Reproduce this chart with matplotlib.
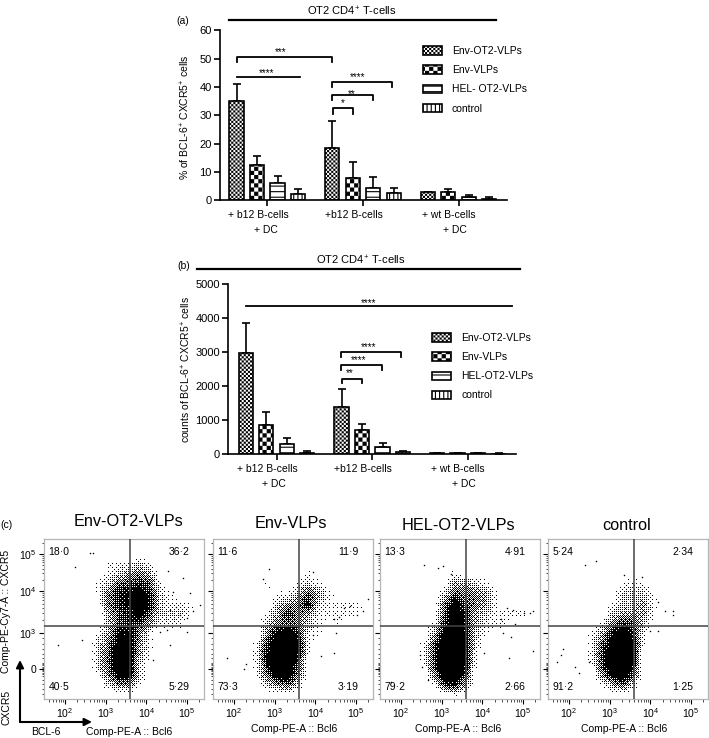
import numpy as np
import matplotlib
matplotlib.use('Agg')
import matplotlib.pyplot as plt
import matplotlib.hatch as mhatch
from matplotlib.lines import Line2D
from matplotlib.patches import Patch, FancyArrowPatch
from matplotlib.path import Path

plt.rcParams['font.family'] = ['Liberation Sans', 'DejaVu Sans']
plt.rcParams['mathtext.default'] = 'regular'
plt.rcParams['hatch.linewidth'] = 0.8

W, H = 709, 738

series_names_a = ['Env-OT2-VLPs', 'Env-VLPs', 'HEL- OT2-VLPs', 'control']
series_names_b = ['Env-OT2-VLPs', 'Env-VLPs', 'HEL-OT2-VLPs', 'control']
group_labels = ['+ b12 B-cells', '+b12 B-cells', '+ wt B-cells']

# rows are series, columns are the three groups
means_a = [[35.2, 18.5, 2.8], [12.3, 7.8, 3.1], [6.0, 4.3, 1.0], [2.3, 2.5, 0.5]]
tops_a = [[41.0, 28.0, 3.1], [15.8, 13.5, 4.0], [8.4, 8.2, 1.8], [4.0, 4.5, 1.0]]
means_b = [[2980, 1380, 15], [850, 710, 25], [300, 200, 25], [40, 60, 10]]
tops_b = [[3850, 1920, 25], [1240, 890, 40], [460, 330, 40], [80, 100, 15]]

# x0, x1, y, tip length, stars, star x, star y
brackets_a = [(0, 4.67, 50.5, 1.7, '***', 2.13, 52.4),
              (0, 3.08, 43.4, 0, '****', 1.47, 45.0),
              (4.64, 7.58, 41.6, 1.7, '****', 5.9, 43.4),
              (4.64, 6.64, 37.0, 1.7, '**', 5.6, 37.6),
              (4.69, 5.7, 32.4, 1.8, '*', 5.16, 34.2)]
brackets_b = [(0, 13.0, 4352, 0, '****', 5.97, 4440),
              (4.63, 7.59, 3005, 155, '****', 6.0, 3150),
              (4.63, 6.63, 2622, 150, '****', 5.5, 2770),
              (4.71, 5.68, 2220, 140, '**', 5.08, 2370)]

flow_titles = ['Env-OT2-VLPs', 'Env-VLPs', 'HEL-OT2-VLPs', 'control']
flow_percent = [['18·0', '36·2', '40·5', '5·29'],
                ['11·6', '11·9', '73·3', '3·19'],
                ['13·3', '4·91', '79·2', '2·66'],
                ['5·24', '2·34', '91·2', '1·25']]

# dot density, 16 x 16 cells, 0 empty to 9 solid black
density_1 = ['0000000000000000', '0000000000000000', '0000001112100000', '0000001234300000',
             '0000012556510000', '0000014678621000', '0000004679721110', '0000003568522210',
             '0000002565311100', '0000013774100000', '0000024883100000', '0000025983100000',
             '0000025982000000', '0000014882000000', '0000002441000000', '0000000000000000']
density_2 = ['0000000000000000', '0000000000000000', '0000000000000000', '0000000001000000',
             '0000010012100000', '0000001125310000', '0000002347211110', '0000013643111110',
             '0000024542101000', '0000048961100000', '0000169971000000', '0000279971000000',
             '0000179950000000', '0000159940000000', '0000024520000000', '0000000000000000']
density_3 = ['0000000000000000', '0000000000000000', '0000000000000000', '0000000100000000',
             '0000000332100000', '0000002544310000', '0000004854310000', '0000005963211110',
             '0000016963111000', '0000038972100000', '0000159972000000', '0000169971000000',
             '0000169971000000', '0000049960000000', '0000016730000000', '0000000100000000']
density_4 = ['0000000000000000', '0000000000000000', '0000000000000000', '0000000000000000',
             '0000000111000000', '0000000222100000', '0000001223100000', '0000002333100000',
             '0000014652000000', '0000137961000000', '0000158971000000', '0000269970000000',
             '0000169970000000', '0000048950000000', '0000013520000000', '0000000000000000']
densities = [density_1, density_2, density_3, density_4]

# lone events outside the main clouds, log10 Bcl6 and display units of CXCR5
lone_1 = [(2.61, 3.22), (2.69, 3.22), (2.24, 2.83), (1.83, 0.67), (2.41, 0.81), (4.54, 2.71), (4.91, 2.52),
          (5.15, 1.60), (5.32, 1.78), (4.66, 2.15), (5.07, 2.11), (4.99, 1.41), (4.82, 1.50), (4.58, 1.64),
          (4.74, 1.73), (4.33, 1.04), (4.50, 1.09), (4.99, 1.04), (4.17, 0.25), (4.58, 0.67)]
lone_2 = [(2.70, 2.50), (2.86, 2.78), (1.82, 0.30), (2.25, 0.00), (2.30, 0.15), (4.70, 1.70), (5.02, 1.50),
          (5.18, 1.60), (5.30, 1.95), (4.58, 1.45), (4.85, 1.75), (4.45, 1.40), (4.50, 1.00), (4.45, 0.45),
          (3.95, 0.95), (4.15, 0.35), (3.95, 2.70)]
lone_3 = [(2.56, 2.88), (2.90, 2.80), (3.02, 2.85), (3.24, 2.65), (1.75, -0.35), (2.47, 0.40), (2.52, 0.05),
          (2.65, -0.30), (4.60, 1.70), (4.75, 1.65), (5.03, 1.55), (5.18, 1.55), (5.25, 1.60), (4.50, 1.00),
          (4.70, 0.90), (4.65, 0.30), (5.25, 0.50), (4.05, 0.45), (4.45, 1.40), (4.80, 1.25)]
lone_4 = [(2.40, 2.90), (2.65, 3.00), (3.35, 2.60), (1.85, 0.55), (1.80, 0.40), (1.70, 0.20), (2.15, 0.05),
          (2.25, -0.10), (2.50, 0.20), (4.55, 1.60), (4.55, 1.50), (4.20, 1.85), (4.35, 1.60), (4.00, 1.05),
          (4.20, 1.05), (3.80, 2.55)]
lone_events = [lone_1, lone_2, lone_3, lone_4]

x_tick_logs = [2, 3, 4, 5]
x_tick_labels = ['$10^2$', '$10^3$', '$10^4$', '$10^5$']
y_tick_pos = [0, 1, 2.17, 3.19]
y_tick_labels = ['0', '$10^3$', '$10^4$', '$10^5$']
gate_x = 3.59
gate_y = 1.2

group_starts = [0, 4.67, 9.33]
hatches = ['********', '****', '---', '||||']


#function: checkerboard hatch, one check size per count of the * symbol
class CheckHatch(mhatch.HatchPatternBase):
    def __init__(self, hatch, density):
        self.n = hatch.count('*') * density
        self.num_vertices = 5 * (self.n * self.n // 2)

    def set_vertices_and_codes(self, vertices, codes):
        step = 1.0 / self.n
        inset = 0.0055 #the hatch stroke grows each check by this much
        squares = [(i, j) for i in range(self.n) for j in range(self.n) if (i + j) % 2 == 0]
        for k, (i, j) in enumerate(squares[:self.num_vertices // 5]):
            x0, y0 = i * step + inset, j * step + inset
            x1, y1 = (i + 1) * step - inset, (j + 1) * step - inset
            vertices[5 * k:5 * k + 5] = [(x0, y0), (x1, y0), (x1, y1), (x0, y1), (x0, y0)]
            codes[5 * k:5 * k + 5] = [Path.MOVETO, Path.LINETO, Path.LINETO, Path.LINETO, Path.CLOSEPOLY]


mhatch._hatch_types[:] = [mhatch.HorizontalHatch, mhatch.VerticalHatch, CheckHatch]

fig = plt.figure(figsize=(W / 100, H / 100), dpi=100)


#function: make axes from a box given in picture pixels
def axes_px(left, top, right, bottom):
    return fig.add_axes([left / W, 1 - bottom / H, (right - left) / W, (bottom - top) / H])


#function: write text at a picture pixel position
def text_px(x, y, s, size=7.5, ha='center', rotation=0):
    fig.text(x / W, 1 - y / H, s, fontsize=size, ha=ha, va='center', rotation=rotation)


#function: draw a straight figure line between two picture pixel positions
def line_px(x0, y0, x1, y1, lw=1.6):
    fig.add_artist(Line2D([x0 / W, x1 / W], [1 - y0 / H, 1 - y1 / H], color='black', lw=lw))


#function: turn a density grid into pixel sized black and white specks with a fixed threshold matrix
def stipple(rows, size=160):
    grid = np.array([[int(c) for c in row] for row in rows], dtype=float) / 9
    centers = (np.arange(grid.shape[0]) + 0.5) * size / grid.shape[0]
    pos = np.arange(size) + 0.5
    by_row = np.array([np.interp(pos, centers, row) for row in grid])
    fine = np.array([np.interp(pos, centers, col) for col in by_row.T]).T
    fine = np.clip((fine - 0.05) / 0.75, 0, 1) #trim the faint rim, make the core solid
    bayer = np.array([[0]])
    for _ in range(3):
        bayer = np.block([[4 * bayer, 4 * bayer + 2], [4 * bayer + 3, 4 * bayer + 1]])
    threshold = np.tile((bayer + 0.5) / 64, (size // 8, size // 8))
    return (fine > threshold).astype(float)


#function: draw one bar panel with errors, brackets and legend
def bar_panel(box, ymax, yticks, means, tops, brackets, names, legend_at):
    ax = axes_px(*box)
    bar0_px = legend_at[2]
    ax.set_xlim((box[0] - bar0_px) / 20.5, (box[2] - bar0_px) / 20.5)
    ax.set_ylim(0, ymax)
    handles = []
    for s in range(4):
        xs = [g + s for g in group_starts]
        ax.bar(xs, means[s], width=0.7, facecolor='white', edgecolor='black', linewidth=1.2, hatch=hatches[s], zorder=2)
        upper = np.array(tops[s]) - np.array(means[s])
        ax.errorbar(xs, means[s], yerr=[np.zeros(3), upper], fmt='none', ecolor='black', elinewidth=1.2,
                    capsize=2.7, capthick=1.2, zorder=1)
        handles.append(Patch(facecolor='white', edgecolor='black', linewidth=1.2, hatch=hatches[s], label=names[s]))
    for x0, x1, y, tip, stars, sx, sy in brackets:
        ax.plot([x0, x0, x1, x1], [y - tip, y, y, y - tip], color='black', lw=1.3, zorder=3, clip_on=False)
        ax.text(sx, sy, stars, fontsize=7, ha='center', va='center')
    for side in ['top', 'right']:
        ax.spines[side].set_visible(False)
    ax.spines['left'].set_linewidth(1.2)
    ax.spines['bottom'].set_linewidth(1.2)
    ax.set_xticks([g + 1.5 for g in group_starts])
    ax.set_xticklabels([])
    ax.set_yticks(yticks)
    ax.tick_params(axis='both', width=1.2, length=4, labelsize=8, pad=2)
    ax.legend(handles=handles, loc='upper left', frameon=False, fontsize=7.5, borderpad=0, borderaxespad=0,
              handlelength=1.83, handleheight=0.87, handletextpad=0.96, labelspacing=0.88,
              bbox_to_anchor=((legend_at[0] - box[0]) / (box[2] - box[0]), (box[3] - legend_at[1]) / (box[3] - box[1])))
    return ax


ax_a = bar_panel((220, 30.3, 507, 200.3), 60, range(0, 61, 10), means_a, tops_a, brackets_a, series_names_a,
                 (422.7, 46, 236.5))
ax_b = bar_panel((228.3, 284.3, 515.7, 454), 5000, range(0, 5001, 1000), means_b, tops_b, brackets_b, series_names_b,
                 (432, 333, 245.8))

line_px(229, 20.3, 496, 20.3)
line_px(197, 268.7, 520, 268.7)
text_px(351.7, 11, 'OT2 CD4$^{+}$ T-cells', 8)
text_px(360.7, 260, 'OT2 CD4$^{+}$ T-cells', 8)
text_px(183, 21, '(a)')
text_px(184, 266, '(b)')
text_px(185.7, 117.5, '% of BCL-6$^{+}$ CXCR5$^{+}$ cells', rotation=90)
text_px(186, 369.7, 'counts of BCL-6$^{+}$ CXCR5$^{+}$ cells', rotation=90)

for label, xa, xb in zip(group_labels, [258, 354, 449], [267.7, 363, 458]):
    text_px(xa, 215, label)
    text_px(xb, 469, label)
for xa, xb in zip([265.7, 455], [274, 464]):
    text_px(xa, 230, '+ DC')
    text_px(xb, 484, '+ DC')

# tick positions between the labelled values of the biexponential axis
y_minor = []
for v in range(2, 10):
    y_minor.append(1 + 1.17 * np.log10(v))
    y_minor.append(2.17 + 1.02 * np.log10(v))
y_minor.append(3.19 + 1.02 * np.log10(2))
y_minor += list(np.arange(-0.18, 0.2, 0.04)) + [0.3, 0.42, 0.55, 0.7, 0.85, -0.3, -0.42, -0.55, -0.7]
x_minor = [np.log10(m) + d for d in [1, 2, 3, 4, 5] for m in range(2, 10) if 1.48 < np.log10(m) + d < 5.42]

panel_boxes = [(44, 539, 204, 699), (213, 539, 373, 699), (380, 539, 540, 699), (548, 539, 708, 699)]
for i, box in enumerate(panel_boxes):
    ax = axes_px(*box)
    ax.imshow(stipple(densities[i]), extent=[1.48, 5.42, -0.83, 3.61], origin='upper', cmap='gray_r', vmin=0, vmax=1,
              interpolation='nearest', aspect='auto', zorder=1)
    ax.scatter([p[0] for p in lone_events[i]], [p[1] for p in lone_events[i]], s=1.2, color='black', linewidths=0, zorder=2)
    ax.axvline(gate_x, color='#444444', lw=1.1, zorder=3)
    ax.axhline(gate_y, color='#444444', lw=1.1, zorder=3)
    ax.set_xlim(1.48, 5.42)
    ax.set_ylim(-0.83, 3.61)
    for spine in ax.spines.values():
        spine.set_color('#b5b5b5')
        spine.set_linewidth(0.9)
    ax.set_xticks(x_tick_logs)
    ax.set_xticks(x_minor, minor=True)
    ax.set_xticklabels(x_tick_labels)
    ax.set_yticks(y_tick_pos)
    ax.set_yticks(y_minor, minor=True)
    ax.set_yticklabels(y_tick_labels if i == 0 else [])
    ax.tick_params(axis='both', which='major', length=3.5, width=0.8, labelsize=7.5, pad=2)
    ax.tick_params(axis='both', which='minor', length=1.8, width=0.5)
    ax.text(0.028, 0.92, flow_percent[i][0], transform=ax.transAxes, fontsize=7.5, va='center')
    ax.text(0.91, 0.92, flow_percent[i][1], transform=ax.transAxes, fontsize=7.5, va='center', ha='right')
    ax.text(0.028, 0.075, flow_percent[i][2], transform=ax.transAxes, fontsize=7.5, va='center')
    ax.text(0.91, 0.075, flow_percent[i][3], transform=ax.transAxes, fontsize=7.5, va='center', ha='right')

for name, x, y in zip(flow_titles, [128.7, 291, 458.7, 626.7], [522, 524, 525, 525]):
    text_px(x, y, name, 11.7)
for x, y in zip([129, 294, 458, 624], [732, 729, 729, 729]):
    text_px(x, y, 'Comp-PE-A :: Bcl6')
text_px(5.7, 611, 'Comp-PE-Cy7-A :: CXCR5', rotation=90)
text_px(6, 707.5, 'CXCR5', rotation=90)
text_px(46, 732, 'BCL-6')
text_px(6.7, 525, '(c)')

# the two axis arrows in the corner of the first flow plot
for end in [(20, 660), (92, 722)]:
    fig.add_artist(FancyArrowPatch((20 / W, 1 - 722 / H), (end[0] / W, 1 - end[1] / H),
                                   transform=fig.transFigure, arrowstyle='-|>', mutation_scale=11,
                                   color='black', lw=1.5, shrinkA=0, shrinkB=0))

fig.savefig('out.png', dpi=100)
